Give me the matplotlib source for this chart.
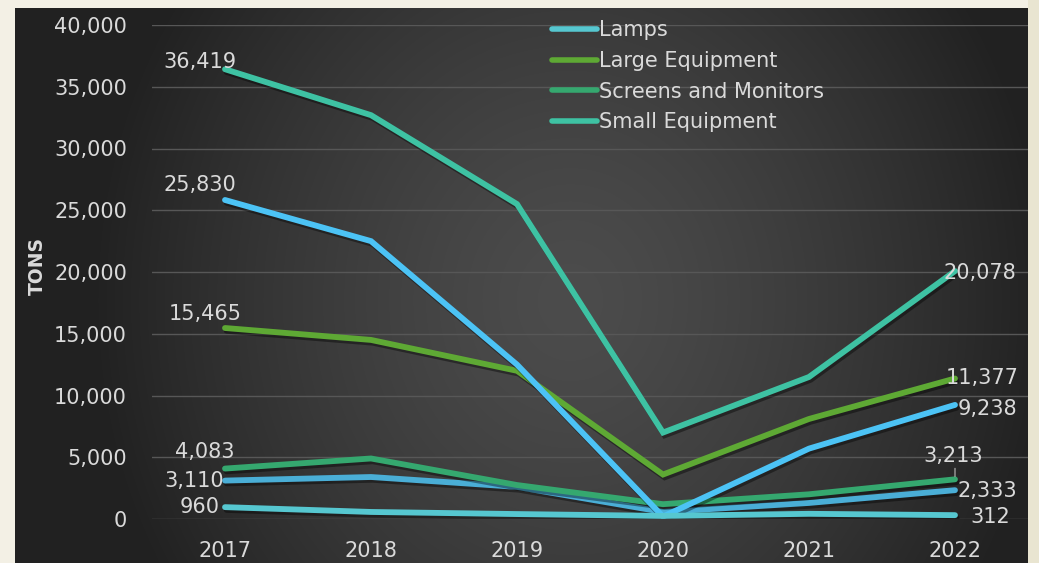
import numpy as np
import matplotlib
matplotlib.use("Agg")
import matplotlib.pyplot as plt
import matplotlib.patheffects as pe
from matplotlib.lines import Line2D
from matplotlib.ticker import FuncFormatter

# ---------------- data ----------------
years = ["2017", "2018", "2019", "2020", "2021", "2022"]
lamps = [960, 570, 400, 250, 420, 312]
large_equipment = [15465, 14500, 12000, 3600, 8100, 11377]
screens_monitors = [4083, 4900, 2750, 1200, 2000, 3213]
small_equipment = [36419, 32700, 25500, 7000, 11500, 20078]
temperature_exchange = [25830, 22500, 12500, 200, 5700, 9238]
small_it = [3110, 3400, 2600, 570, 1300, 2333]

series_names = ["Lamps", "Large Equipment", "Screens and Monitors", "Small Equipment",
                "Temperature Exchange Equipment", "Small IT and Telecom Equipment"]
series_values = [lamps, large_equipment, screens_monitors, small_equipment,
                 temperature_exchange, small_it]
series_colors = ["#56C7D0", "#5EA934", "#35A86F", "#3EC2A3", "#4CC3F5", "#4AAED6"]
in_legend = [True, True, True, True, False, False]

W, H = 1039, 563
fig = plt.figure(figsize=(W / 100, H / 100), dpi=100)
fig.patch.set_facecolor("#F3F0E5")

# right cream strip
fig.patches.append(plt.Rectangle((1028 / W, 0), 11 / W, 1, transform=fig.transFigure,
                                 facecolor="#E9E5D1", edgecolor="none", zorder=0))

# dark gradient background
bx0, bx1, by_top = 15, 1028, 8
bg = fig.add_axes([bx0 / W, 0, (bx1 - bx0) / W, (H - by_top) / H])
bg.set_axis_off()
xs = np.arange(bx0, bx1)
ys = np.arange(by_top, H)
X, Y = np.meshgrid(xs, ys)
cx, cy = 570, 300
d = np.sqrt(((X - cx) / 480.0) ** 2 + ((Y - cy) / 540.0) ** 2)
t = np.clip(d, 0, 1) ** 1.4
c_in = np.array([0x4C, 0x4C, 0x4C]) / 255
c_out = np.array([0x21, 0x21, 0x21]) / 255
img = c_in[None, None, :] * (1 - t[..., None]) + c_out[None, None, :] * t[..., None]
bg.imshow(img, aspect="auto", extent=[0, 1, 0, 1], interpolation="bilinear")
bg.set_xlim(0, 1)
bg.set_ylim(0, 1)

# main axes
L, R, T, B = 152, 1028, 25, 519
ax = fig.add_axes([L / W, (H - B) / H, (R - L) / W, (B - T) / H])
ax.patch.set_alpha(0)
ax.set_xlim(-0.5, 5.5)
ax.set_ylim(0, 40000)
ax.set_yticks(np.arange(0, 40001, 5000))
ax.yaxis.set_major_formatter(FuncFormatter(lambda v, p: f"{int(v):,}"))
ax.set_xticks(range(len(years)))
ax.set_xticklabels(years)
for s in ax.spines.values():
    s.set_visible(False)
ax.grid(axis="y", color="#575757", linewidth=1.0, zorder=0)
ax.set_axisbelow(True)

FONT = "DejaVu Sans"
txtc = "#DADADA"
FS = 15
ax.tick_params(axis="both", length=0, colors=txtc, labelsize=FS)
ax.tick_params(axis="y", pad=18)
ax.tick_params(axis="x", pad=16)
for lab_ in ax.get_xticklabels() + ax.get_yticklabels():
    lab_.set_fontfamily(FONT)

fig.text(37 / W, 1 - 266 / H, "TONS", rotation=90, color=txtc, fontsize=13.5,
         fontweight="bold", fontfamily=FONT, ha="center", va="center")

x = np.arange(len(years))
shadow = [pe.SimpleLineShadow(offset=(1.2, -2.0), shadow_color="black", alpha=0.4),
          pe.Normal()]
order = [5, 2, 1, 4, 3, 0]
for i in order:
    ax.plot(x, series_values[i], color=series_colors[i], linewidth=4.2,
            solid_capstyle="round", solid_joinstyle="miter", path_effects=shadow,
            zorder=3 + (i == 0))

handles = [Line2D([], [], color=series_colors[i], linewidth=4.0, solid_capstyle="round")
           for i in range(len(series_names)) if in_legend[i]]
labels = [series_names[i] for i in range(len(series_names)) if in_legend[i]]
leg = fig.legend(handles, labels, loc="upper left",
                 bbox_to_anchor=(552 / W, 1 - 20 / H), frameon=False,
                 prop={"family": FONT, "size": FS}, labelcolor=txtc,
                 handlelength=2.15, handletextpad=0.1, labelspacing=0.52,
                 borderpad=0, borderaxespad=0)

px = 1 / 1.389  # pixels -> points


def lab(i, idx, dx, dy, ha, va="center"):
    v = series_values[i][idx]
    ax.annotate(f"{v:,}", (idx, v), xytext=(dx * px, dy * px), textcoords="offset points",
                ha=ha, va=va, color=txtc, fontsize=FS, fontfamily=FONT, zorder=6)


# left labels
lab(3, 0, 12, 7, "right")
lab(4, 0, 11, 15, "right")
lab(1, 0, 17, 14, "right")
lab(2, 0, 10, 17, "right")
lab(5, 0, -1, 0, "right")
lab(0, 0, -5, 0, "right")
# right labels
lab(3, 5, -12, -2, "left")
lab(1, 5, -9, 0, "left")
lab(4, 5, 3, -4, "left")
lab(5, 5, 3, -1, "left")
lab(0, 5, 15, -2, "left")
ax.annotate(f"{screens_monitors[5]:,}", (5, screens_monitors[5]), xytext=(-2 * px, 23 * px),
            textcoords="offset points", ha="center", va="center", color=txtc,
            fontsize=FS, fontfamily=FONT, zorder=6)
ax.annotate("", (5, screens_monitors[5]), xytext=(0, 11 * px), textcoords="offset points",
            arrowprops=dict(arrowstyle="-", color="#BBBBBB", lw=0.8, shrinkA=0, shrinkB=2))

fig.savefig("out.png", dpi=100, facecolor=fig.get_facecolor())
